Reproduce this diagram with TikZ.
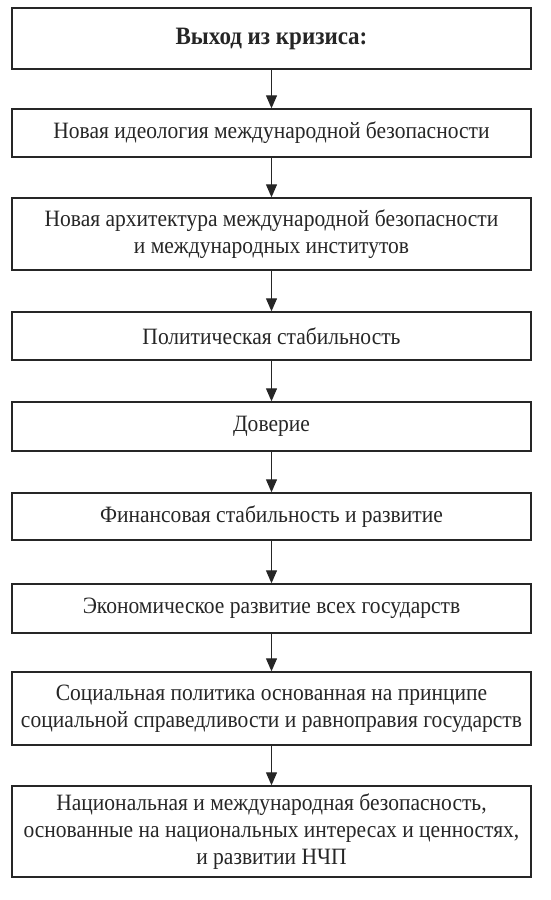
\documentclass[tikz,border=0pt]{standalone}
\usepackage{fontspec}
\setmainfont[FakeStretch=0.92]{Liberation Serif}
\usetikzlibrary{arrows.meta}
\definecolor{ink}{HTML}{262626}
\tikzset{
  box/.style={draw=ink, line width=1.4pt, text=ink, minimum width=519pt, inner sep=0pt,
    align=center, font=\fontsize{23.4pt}{27pt}\selectfont},
  link/.style={draw=ink, line width=1.2pt, -{Triangle[length=13pt,width=11pt]}}
}
\begin{document}
\begin{tikzpicture}[x=1pt,y=1pt]
\useasboundingbox (0,0) rectangle (550,-900);
\node[box, minimum height=61pt, font=\fontsize{25pt}{26pt}\selectfont\bfseries] (b1) at (271.5,-38.5) {Выход из кризиса:};
\node[box, minimum height=48pt] (b2) at (271.5,-133) {Новая идеология международной безопасности};
\node[box, minimum height=72pt] (b3) at (271.5,-234) {Новая архитектура международной безопасности\\и международных институтов};
\node[box, minimum height=48pt] (b4) at (271.5,-336) {Политическая стабильность};
\node[box, minimum height=49pt] (b5) at (271.5,-426.5) {Доверие};
\node[box, minimum height=47pt] (b6) at (271.5,-516.5) {Финансовая стабильность и развитие};
\node[box, minimum height=49pt] (b7) at (271.5,-608.5) {Экономическое развитие всех государств};
\node[box, minimum height=73pt] (b8) at (271.5,-708.5) {Социальная политика основанная на принципе\\социальной справедливости и равноправия государств};
\node[box, minimum height=91pt] (b9) at (271.5,-831.5) {Национальная и международная безопасность,\\основанные на национальных интересах и ценностях,\\и развитии НЧП};
\foreach \a/\b in {b1/b2,b2/b3,b3/b4,b4/b5,b5/b6,b6/b7,b7/b8,b8/b9}
  \draw[link] (\a.south) -- (\b.north);
\end{tikzpicture}
\end{document}
